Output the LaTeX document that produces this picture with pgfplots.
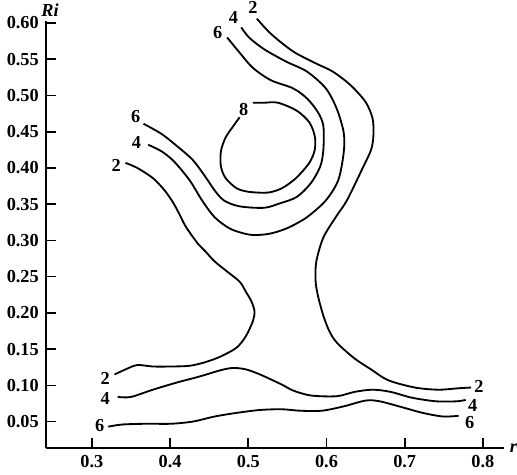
\documentclass[border=0pt]{standalone}
\usepackage{fontspec}
\setmainfont{Liberation Serif}
\usepackage{pgfplots}
\pgfplotsset{compat=1.18}

\begin{document}
\begin{tikzpicture}[lbl/.style={font=\bfseries\fontsize{9}{10}\selectfont, inner sep=0.5pt},
  cline/.style={black, solid, no markers, line width=0.9pt, smooth, tension=0.5}]
\begin{axis}[
  scale only axis, width=225.5pt, height=210pt,
  xmin=0.2413, xmax=0.8275, ymin=0.0139, ymax=0.603,
  axis lines=left, axis line style={-, line width=1pt},
  tick align=inside, major tick length=5pt,
  tick style={line width=0.8pt, black},
  xtick={0.3,0.4,0.5,0.6,0.7,0.8},
  xticklabels={0.3,0.4,0.5,0.6,0.7,0.8},
  ytick={0.05,0.10,0.15,0.20,0.25,0.30,0.35,0.40,0.45,0.50,0.55,0.60},
  yticklabels={0.05,0.10,0.15,0.20,0.25,0.30,0.35,0.40,0.45,0.50,0.55,0.60},
  tick label style={font=\bfseries\fontsize{9}{10}\selectfont},
  clip=false,
]
% level 6, upper branch
\addplot[cline] coordinates {(0.366,0.461)(0.389,0.447)(0.409,0.430)(0.429,0.411)(0.445,0.388)(0.457,0.369)(0.469,0.355)(0.489,0.347)(0.520,0.345)(0.540,0.351)(0.562,0.360)(0.580,0.379)(0.592,0.402)(0.596,0.425)(0.596,0.458)(0.589,0.477)(0.575,0.496)(0.557,0.510)(0.529,0.521)(0.506,0.538)(0.489,0.559)(0.473,0.580)};
% level 4, upper branch
\addplot[cline] coordinates {(0.372,0.432)(0.389,0.423)(0.405,0.409)(0.425,0.383)(0.441,0.355)(0.457,0.332)(0.477,0.316)(0.501,0.308)(0.519,0.308)(0.534,0.311)(0.552,0.318)(0.575,0.332)(0.599,0.355)(0.615,0.383)(0.622,0.421)(0.622,0.449)(0.613,0.482)(0.599,0.510)(0.575,0.533)(0.548,0.547)(0.520,0.564)(0.501,0.580)(0.491,0.594)};
% level 2, right branch
\addplot[cline] coordinates {(0.511,0.606)(0.529,0.585)(0.557,0.561)(0.585,0.545)(0.608,0.533)(0.631,0.514)(0.650,0.491)(0.659,0.468)(0.660,0.445)(0.657,0.425)(0.645,0.397)(0.626,0.355)(0.613,0.334)(0.596,0.304)(0.587,0.271)(0.586,0.245)(0.589,0.224)(0.596,0.196)(0.604,0.174)(0.614,0.158)(0.636,0.137)(0.657,0.122)(0.679,0.107)(0.713,0.097)(0.743,0.094)(0.769,0.096)(0.785,0.097)};
% level 2, left branch
\addplot[cline] coordinates {(0.343,0.407)(0.358,0.400)(0.378,0.386)(0.393,0.369)(0.404,0.352)(0.412,0.336)(0.419,0.321)(0.427,0.308)(0.436,0.295)(0.445,0.285)(0.457,0.271)(0.473,0.257)(0.489,0.243)(0.497,0.229)(0.504,0.216)(0.508,0.202)(0.506,0.189)(0.497,0.168)(0.485,0.152)(0.465,0.140)(0.445,0.132)(0.425,0.127)(0.401,0.126)(0.378,0.126)(0.358,0.128)(0.343,0.122)(0.329,0.115)};
% level 4, lower branch
\addplot[cline] coordinates {(0.333,0.084)(0.350,0.084)(0.378,0.094)(0.409,0.104)(0.437,0.112)(0.465,0.121)(0.481,0.124)(0.497,0.122)(0.515,0.115)(0.543,0.101)(0.557,0.093)(0.580,0.086)(0.613,0.085)(0.636,0.091)(0.659,0.094)(0.682,0.091)(0.709,0.083)(0.740,0.078)(0.767,0.078)(0.778,0.080)};
% level 6, lower branch
\addplot[cline] coordinates {(0.321,0.043)(0.339,0.046)(0.370,0.047)(0.401,0.047)(0.429,0.050)(0.457,0.057)(0.485,0.062)(0.515,0.066)(0.543,0.067)(0.566,0.065)(0.594,0.065)(0.622,0.071)(0.650,0.079)(0.668,0.078)(0.696,0.070)(0.723,0.062)(0.749,0.057)(0.769,0.058)};
% level 8
\addplot[cline] coordinates {(0.489,0.470)(0.481,0.458)(0.471,0.442)(0.465,0.423)(0.465,0.402)(0.471,0.386)(0.485,0.372)(0.501,0.367)(0.525,0.366)(0.543,0.372)(0.561,0.386)(0.578,0.407)(0.585,0.425)(0.585,0.444)(0.578,0.463)(0.562,0.479)(0.538,0.490)(0.520,0.490)(0.506,0.490)};

% contour level labels
\node[lbl] at (axis cs:0.506,0.622) {2};
\node[lbl] at (axis cs:0.481,0.608) {4};
\node[lbl] at (axis cs:0.461,0.587) {6};
\node[lbl] at (axis cs:0.356,0.471) {6};
\node[lbl] at (axis cs:0.357,0.435) {4};
\node[lbl] at (axis cs:0.331,0.404) {2};
\node[lbl] at (axis cs:0.494,0.481) {8};
\node[lbl] at (axis cs:0.317,0.110) {2};
\node[lbl] at (axis cs:0.317,0.082) {4};
\node[lbl] at (axis cs:0.310,0.044) {6};
\node[lbl] at (axis cs:0.795,0.098) {2};
\node[lbl] at (axis cs:0.787,0.072) {4};
\node[lbl] at (axis cs:0.783,0.049) {6};

% axis names
\node[anchor=south west, inner sep=0pt, xshift=-2.5pt, yshift=2pt,
      font=\bfseries\itshape\fontsize{9}{10}\selectfont] at (rel axis cs:0,1) {Ri};
\node[anchor=west, inner sep=0pt, xshift=2.5pt,
      font=\bfseries\itshape\fontsize{9}{10}\selectfont] at (rel axis cs:1,0) {r};
\end{axis}
\end{tikzpicture}
\end{document}
